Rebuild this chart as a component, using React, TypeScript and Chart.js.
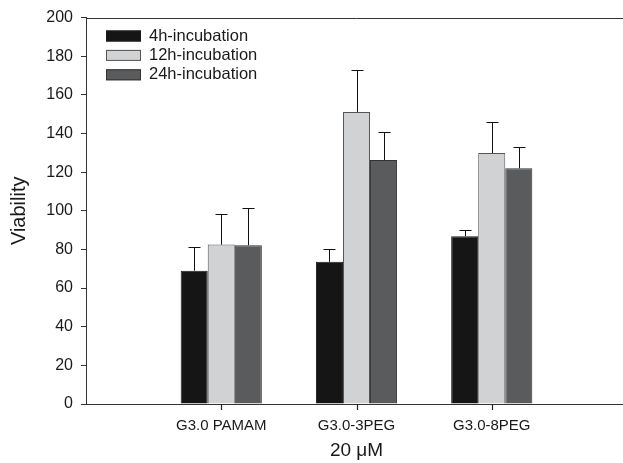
import React, { useEffect, useRef } from 'react';
import { Chart, registerables } from 'chart.js';

Chart.register(...registerables);

const groups = ['G3.0 PAMAM', 'G3.0-3PEG', 'G3.0-8PEG'];
const categories = ['', ...groups, ''];
const seriesNames = ['4h-incubation', '12h-incubation', '24h-incubation'];
const inc4h = [69, 73.6, 86.8];
const inc12h = [82.5, 151.2, 129.9];
const inc24h = [82.2, 126.3, 122];
const err4h = [12.3, 6.6, 3.4];
const err12h = [15.7, 21.6, 16.0];
const err24h = [19, 14.4, 11];
const yMin = 0;
const yMax = 200;
const yStep = 20;
const yTitle = 'Viability';
const xTitle = '20 \u03bcM';

const fills = ['#151515', '#d1d2d4', '#5a5b5d'];
const borders = ['#1a1a1a', '#555555', '#333333'];
const FONT = "'Liberation Sans', Arial, Helvetica, sans-serif";
const TEXT = '#1a1a1a';

const pad = (a: number[]) => [null, ...a, null];

const errorBarPlugin = {
  id: 'errorBars',
  afterDatasetsDraw(chart: any) {
    const ctx = chart.ctx;
    const yScale = chart.scales.y;
    ctx.save();
    ctx.strokeStyle = '#111';
    ctx.lineWidth = 1;
    chart.data.datasets.forEach((ds: any, i: number) => {
      const meta = chart.getDatasetMeta(i);
      meta.data.forEach((el: any, j: number) => {
        const v = ds.data[j];
        const e = ds.errors ? ds.errors[j] : null;
        if (v == null || e == null) return;
        const x = Math.round(el.x) + 0.5;
        const yTop = Math.round(yScale.getPixelForValue(v + e)) + 0.5;
        const yBar = el.y;
        ctx.beginPath();
        ctx.moveTo(x, yBar);
        ctx.lineTo(x, yTop);
        ctx.moveTo(x - 6, yTop);
        ctx.lineTo(x + 6, yTop);
        ctx.stroke();
      });
    });
    ctx.restore();
  },
};

const frameLegendPlugin = {
  id: 'frameLegend',
  afterDraw(chart: any) {
    const ctx = chart.ctx;
    const { left, right, top, bottom } = chart.chartArea;
    const xs = chart.scales.x;
    ctx.save();
    ctx.strokeStyle = '#333';
    ctx.lineWidth = 1;
    ctx.beginPath();
    ctx.moveTo(left, Math.round(top) + 0.5);
    ctx.lineTo(right, Math.round(top) + 0.5);
    ctx.stroke();
    // x tick marks at the labelled categories
    ctx.strokeStyle = '#222';
    ctx.lineWidth = 1.2;
    ctx.beginPath();
    for (let i = 0; i < categories.length; i++) {
      if (!categories[i]) continue;
      const px = Math.round(xs.getPixelForValue(i)) + 0.5;
      ctx.moveTo(px, bottom);
      ctx.lineTo(px, bottom + 6);
    }
    ctx.stroke();
    // legend
    ctx.font = `16.5px ${FONT}`;
    ctx.textBaseline = 'middle';
    ctx.textAlign = 'left';
    ctx.lineWidth = 1;
    chart.data.datasets.forEach((ds: any, i: number) => {
      const bx = 106;
      const by = 30.5 + i * 19.4;
      ctx.fillStyle = ds.backgroundColor;
      ctx.fillRect(bx, by, 35, 11);
      ctx.strokeStyle = ds.borderColor;
      ctx.strokeRect(bx + 0.5, by + 0.5, 34, 10);
      ctx.fillStyle = TEXT;
      ctx.fillText(ds.label, 149, by + 5.5);
    });
    ctx.restore();
  },
};

export default function App() {
  const ref = useRef<HTMLCanvasElement | null>(null);
  useEffect(() => {
    if (!ref.current) return;
    const chart = new Chart(ref.current, {
      type: 'bar',
      data: {
        labels: categories,
        datasets: [
          { label: seriesNames[0], data: pad(inc4h), errors: pad(err4h), backgroundColor: fills[0], borderColor: borders[0], borderWidth: 1 } as any,
          { label: seriesNames[1], data: pad(inc12h), errors: pad(err12h), backgroundColor: fills[1], borderColor: borders[1], borderWidth: 1 } as any,
          { label: seriesNames[2], data: pad(inc24h), errors: pad(err24h), backgroundColor: fills[2], borderColor: borders[2], borderWidth: 1 } as any,
        ],
      },
      options: {
        animation: false,
        responsive: true,
        maintainAspectRatio: false,
        layout: { padding: { top: 15, right: 0, bottom: 0, left: 0 } },
        datasets: { bar: { categoryPercentage: 0.6, barPercentage: 1 } },
        plugins: { legend: { display: false }, tooltip: { enabled: false } },
        scales: {
          x: {
            offset: false,
            afterFit: (s: any) => { s.height = 59; },
            grid: { display: false, drawTicks: true, tickLength: 6 },
            border: { display: true, color: '#333', width: 1 },
            ticks: { color: TEXT, font: { family: FONT, size: 15 }, padding: 7, maxRotation: 0, autoSkip: false },
            title: { display: true, text: xTitle, color: TEXT, font: { family: FONT, size: 19 }, padding: { top: 1, bottom: 1 } },
          },
          y: {
            min: yMin,
            max: yMax,
            afterFit: (s: any) => { s.width = 86; },
            grid: { display: true, drawOnChartArea: false, drawTicks: true, tickLength: 5, color: '#333' },
            border: { display: true, color: '#333', width: 1 },
            ticks: { stepSize: yStep, color: TEXT, font: { family: FONT, size: 16 }, padding: 8 },
            title: { display: true, text: yTitle, color: TEXT, font: { family: FONT, size: 20 }, padding: { top: 7, bottom: 0 } },
          },
        },
      } as any,
      plugins: [errorBarPlugin, frameLegendPlugin],
    });
    return () => chart.destroy();
  }, []);

  return (
    <div style={{ position: 'fixed', left: 0, top: 0, width: 623, height: 463, overflow: 'hidden', background: '#fff' }}>
      <div style={{ position: 'relative', width: 634, height: 463 }}>
        <canvas ref={ref} />
      </div>
    </div>
  );
}
